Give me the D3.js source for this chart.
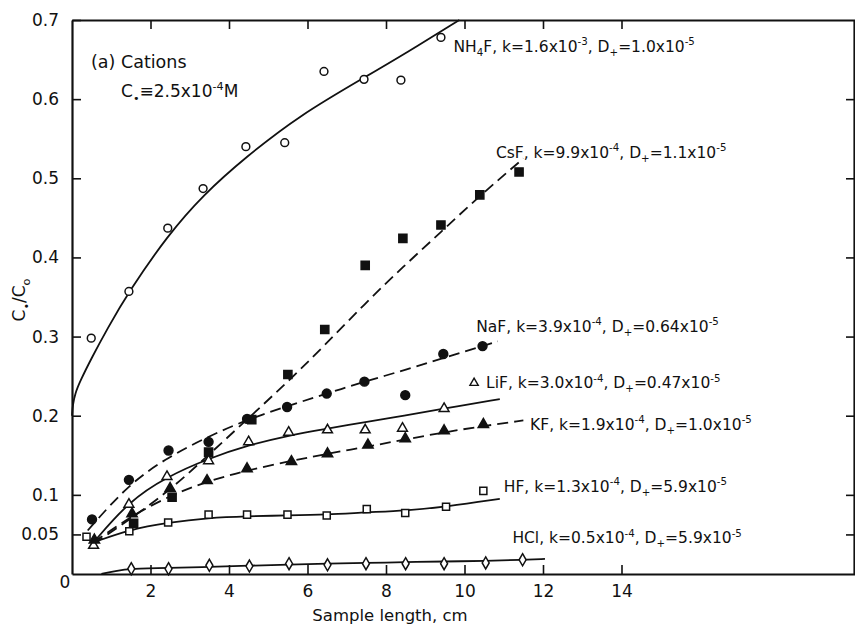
<!DOCTYPE html>
<meta charset="utf-8">
<script src="https://cdn.jsdelivr.net/npm/d3@7"></script>
<style>
  body { margin: 0; background: #fff; }
  text { font-family: "DejaVu Sans", sans-serif; fill: #111; }
</style>
<div id="chart"></div>
<script>
    // measured points, C_s/C_o against sample length (cm)
    const nh4fPts = [[0.49,0.298],[1.45,0.357],[2.44,0.437],[3.34,0.487],[4.43,0.54],[5.42,0.545],[6.42,0.635],[7.44,0.625],[8.38,0.624],[9.4,0.678]];
    const csfPts = [[1.57,0.064],[2.55,0.097],[3.48,0.154],[4.58,0.195],[5.5,0.252],[6.44,0.309],[7.47,0.39],[8.43,0.424],[9.4,0.441],[10.39,0.479],[11.39,0.508]];
    const nafPts = [[0.51,0.069],[1.45,0.119],[2.46,0.156],[3.48,0.167],[4.46,0.196],[5.48,0.211],[6.49,0.228],[7.45,0.243],[8.49,0.226],[9.46,0.278],[10.46,0.288]];
    const lifPts = [[0.55,0.036],[1.45,0.088],[2.42,0.123],[3.48,0.143],[4.5,0.167],[5.52,0.179],[6.51,0.182],[7.47,0.182],[8.42,0.184],[9.48,0.209]];
    const kfPts = [[0.57,0.043],[1.53,0.076],[2.5,0.108],[3.44,0.118],[4.46,0.133],[5.59,0.142],[6.51,0.152],[7.54,0.163],[8.49,0.171],[9.48,0.181],[10.48,0.189]];
    const hfPts = [[0.37,0.047],[1.46,0.054],[2.45,0.065],[3.48,0.075],[4.46,0.075],[5.49,0.075],[6.49,0.074],[7.51,0.082],[8.49,0.077],[9.53,0.085],[10.48,0.105]];
    const hclPts = [[1.51,0.0066],[2.46,0.0066],[3.5,0.011],[4.52,0.010],[5.53,0.013],[6.51,0.0116],[7.49,0.013],[8.5,0.013],[9.48,0.013],[10.54,0.014],[11.48,0.018]];

    // fitted curves
    const nh4fFit = [[0,0.2],[0.02,0.214],[0.08,0.228],[0.2,0.243],[0.5,0.273],[0.9,0.31],[1.45,0.357],[2.44,0.428],[3.34,0.479],[4.43,0.527],[5.81,0.58],[7.47,0.628],[8.5,0.658],[9.87,0.7]];
    const csfFit = [[0.55,0.038],[1.5,0.07],[2.5,0.106],[3.47,0.15],[4.5,0.197],[5.5,0.243],[6.4,0.287],[7.47,0.342],[8.43,0.388],[9.4,0.432],[10.39,0.478],[11.5,0.525]];
    const nafFit = [[0.4,0.055],[1.45,0.114],[2.46,0.148],[3.48,0.174],[4.46,0.195],[5.48,0.212],[6.49,0.228],[7.45,0.243],[8.5,0.258],[9.46,0.273],[10.46,0.288],[10.85,0.294]];
    const lifFit = [[0.55,0.04],[1.45,0.092],[2.42,0.123],[3.48,0.146],[4.5,0.163],[5.52,0.175],[6.4,0.183],[7.5,0.192],[8.45,0.2],[9.48,0.209],[10.9,0.221]];
    const kfFit = [[0.55,0.04],[1.53,0.074],[2.5,0.099],[3.44,0.117],[4.46,0.131],[5.59,0.143],[6.51,0.152],[7.54,0.161],[8.49,0.17],[9.48,0.179],[10.48,0.187],[11.5,0.194]];
    const hfFit = [[0.55,0.04],[1.46,0.056],[2.45,0.065],[3.48,0.071],[4.46,0.073],[5.49,0.074],[6.49,0.075],[7.51,0.078],[8.49,0.08],[9.53,0.085],[10.9,0.095]];
    const hclFit = [[0.75,0],[1.1,0.004],[1.51,0.0066],[2.46,0.0078],[3.5,0.009],[4.52,0.0105],[5.53,0.012],[6.51,0.013],[7.49,0.014],[8.5,0.015],[9.48,0.0158],[10.54,0.0165],[11.48,0.018],[12.05,0.019]];

    // label texts
    const saltNames = ["NH4F", "CsF", "NaF", "LiF", "KF", "HF", "HCl"];
    const kMant = ["1.6", "9.9", "3.9", "3.0", "1.9", "1.3", "0.5"];
    const kExp = ["-3", "-4", "-4", "-4", "-4", "-4", "-4"];
    const dMant = ["1.0", "1.1", "0.64", "0.47", "1.0", "5.9", "5.9"];
    const dExp = ["-5", "-5", "-5", "-5", "-5", "-5", "-5"];
    const xTicks = [2, 4, 6, 8, 10, 12, 14];
    const yTicks = [0.05, 0.1, 0.2, 0.3, 0.4, 0.5, 0.6, 0.7];

    // where each label sits (data units)
    const labelAt = [[9.72,0.66],[10.8,0.526],[10.3,0.306],[10.55,0.235],[11.67,0.182],[11.0,0.104],[11.22,0.039]];

    const width = 855, height = 627;
    const svg = d3.select("#chart").append("svg")
        .attr("width", width).attr("height", height);

    const x = d3.scaleLinear().domain([0, 20]).range([72, 857]);
    const y = d3.scaleLinear().domain([0, 0.7]).range([574, 20]);

    const series = [
        {pts: nh4fPts, fit: nh4fFit, sym: d3.symbolCircle, size: 48, fill: "#fff", dash: null},
        {pts: csfPts, fit: csfFit, sym: d3.symbolSquare, size: 66, fill: "#111", dash: "11,6"},
        {pts: nafPts, fit: nafFit, sym: d3.symbolCircle, size: 62, fill: "#111", dash: "11,6"},
        {pts: lifPts, fit: lifFit, sym: d3.symbolTriangle, size: 42, fill: "#fff", dash: null},
        {pts: kfPts, fit: kfFit, sym: d3.symbolTriangle, size: 46, fill: "#111", dash: "11,6"},
        {pts: hfPts, fit: hfFit, sym: d3.symbolSquare, size: 50, fill: "#fff", dash: null},
        {pts: hclPts, fit: hclFit, sym: d3.symbolDiamond, size: 42, fill: "#fff", dash: null}
    ];

    // axes: ticks point inwards on all four sides
    svg.append("g")
        .attr("transform", "translate(72,0)")
        .call(d3.axisLeft(y).tickValues(yTicks).tickSizeInner(-9).tickSizeOuter(0).tickPadding(13)
            .tickFormat(d => d === 0.05 ? "0.05" : d3.format(".1f")(d)));
    svg.append("g")
        .attr("transform", "translate(0,574)")
        .call(d3.axisBottom(x).tickValues(xTicks).tickSizeInner(-9).tickSizeOuter(0).tickPadding(11));
    svg.append("g")
        .attr("transform", "translate(0,20)")
        .call(d3.axisTop(x).tickValues(xTicks).tickSizeInner(-9).tickSizeOuter(0).tickFormat(""));
    svg.append("g")
        .attr("transform", "translate(854,0)")
        .call(d3.axisRight(y).tickValues(yTicks.slice(0, 7)).tickSizeInner(-8).tickSizeOuter(0).tickFormat(""));

    svg.selectAll(".domain").attr("stroke", "#111").attr("stroke-width", 2.2);
    svg.selectAll(".tick line").attr("stroke", "#111").attr("stroke-width", 1.6);
    svg.selectAll(".tick text").attr("font-size", 17).attr("font-family", "DejaVu Sans").attr("fill", "#111");

    svg.append("text").attr("x", 65).attr("y", 588)
        .attr("text-anchor", "middle").attr("font-size", 17).text("0");

    svg.append("text").attr("x", 390).attr("y", 621)
        .attr("text-anchor", "middle").attr("font-size", 16.5).text("Sample length, cm");

    // rich text with sub / superscripts
    function rich(sel, parts, size) {
        let off = 0;
        parts.forEach(p => {
            const target = p[1] === "sup" ? -size * 0.42 : p[1] === "sub" ? size * 0.28 : 0;
            sel.append("tspan")
                .attr("dy", target - off)
                .attr("font-size", p[1] === "n" ? size : size * 0.66)
                .text(p[0]);
            off = target;
        });
    }

    const yl = svg.append("text")
        .attr("transform", "translate(25,300) rotate(-90)")
        .attr("text-anchor", "middle");
    rich(yl, [["C", "n"], ["\u2022", "sub"], ["/C", "n"], ["o", "sub"]], 17);

    rich(svg.append("text").attr("x", 91).attr("y", 68), [["(a) Cations", "n"]], 17.5);
    rich(svg.append("text").attr("x", 121).attr("y", 97),
        [["C", "n"], ["\u2022", "sub"], ["\u2261", "n"], ["2.5x10", "n"], ["-4", "sup"], ["M", "n"]], 17);

    // curves
    const line = d3.line()
        .x(d => x(d[0])).y(d => y(d[1]))
        .curve(d3.curveBasis);

    svg.append("g").selectAll("path")
        .data(series)
        .enter().append("path")
        .attr("d", d => line(d.fit))
        .attr("fill", "none")
        .attr("stroke", "#111")
        .attr("stroke-width", 1.8)
        .attr("stroke-dasharray", d => d.dash);

    // markers
    series.forEach(s => {
        svg.append("g").selectAll("path")
            .data(s.pts)
            .enter().append("path")
            .attr("transform", d => "translate(" + x(d[0]) + "," + y(d[1]) + ")")
            .attr("d", d3.symbol().type(s.sym).size(s.size))
            .attr("fill", s.fill)
            .attr("stroke", "#111")
            .attr("stroke-width", 1.5);
    });

    // series labels
    saltNames.forEach((nm, i) => {
        const parts = [];
        nm.split(/(\d)/).filter(t => t).forEach(t => parts.push([t, /\d/.test(t) ? "sub" : "n"]));
        parts.push([", k=" + kMant[i] + "x10", "n"], [kExp[i], "sup"], [", D", "n"], ["+", "sub"],
            ["=" + dMant[i] + "x10", "n"], [dExp[i], "sup"]);
        const t = svg.append("text")
            .attr("x", x(labelAt[i][0])).attr("y", y(labelAt[i][1]));
        rich(t, parts, 15.5);
    });

    // small open triangle in front of the LiF label
    svg.append("path")
        .attr("transform", "translate(" + (x(labelAt[3][0]) - 12) + "," + (y(labelAt[3][1]) - 5) + ")")
        .attr("d", d3.symbol().type(d3.symbolTriangle).size(30))
        .attr("fill", "#fff").attr("stroke", "#111").attr("stroke-width", 1.4);
</script>
